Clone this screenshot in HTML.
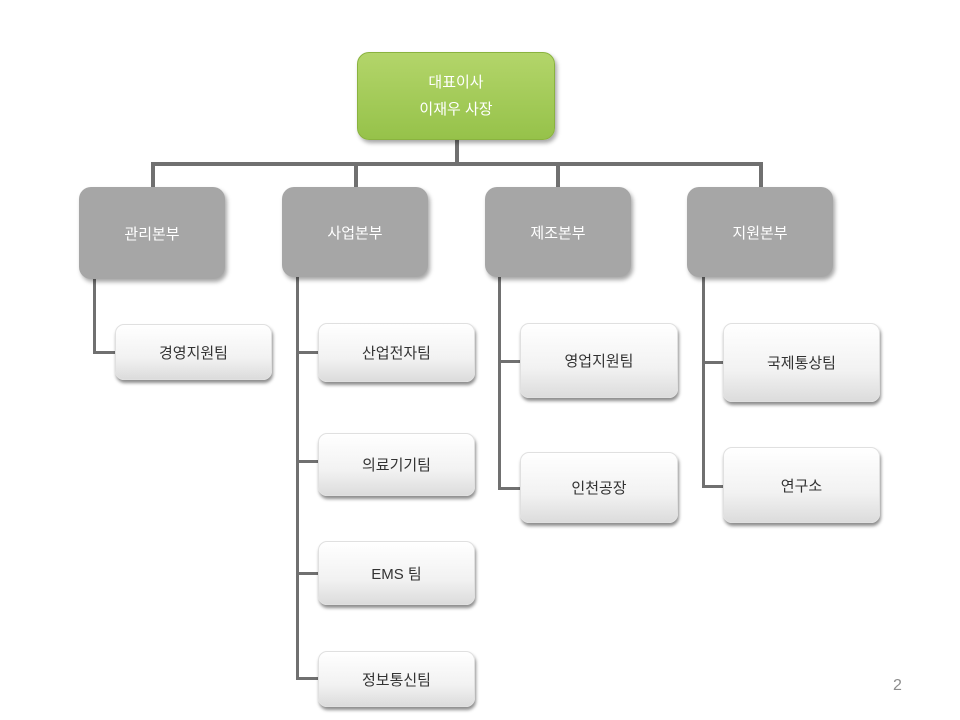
<!DOCTYPE html><html><head><meta charset="utf-8"><style>
body{margin:0;width:960px;height:720px;background:#fff;position:relative;overflow:hidden;font-family:"Liberation Sans","Noto Sans CJK KR",sans-serif}
.b{position:absolute;box-sizing:border-box;display:flex;align-items:center;justify-content:center;text-align:center;border-radius:12px}
.g{background:linear-gradient(#b3d56a,#96c24a);border:1px solid #8ab33f;color:#fff;font-size:15px;line-height:27px;box-shadow:2px 3px 4px rgba(0,0,0,.35)}
.m{background:#a6a6a6;color:#fff;font-size:15px;box-shadow:2px 3px 4px rgba(0,0,0,.35)}
.w{background:linear-gradient(#fff,#f2f2f2 60%,#dcdcdc);border:1px solid #e0e0e0;color:#333;font-size:15px;border-radius:9px;box-shadow:1px 3px 3px rgba(0,0,0,.45)}
.l{position:absolute;background:#707070}
</style></head><body>
<div class="l" style="left:455px;top:140px;width:4px;height:26px"></div>
<div class="l" style="left:152px;top:162px;width:610px;height:4px"></div>
<div class="l" style="left:151px;top:162px;width:4px;height:26px"></div>
<div class="l" style="left:354px;top:162px;width:4px;height:26px"></div>
<div class="l" style="left:556px;top:162px;width:4px;height:26px"></div>
<div class="l" style="left:759px;top:162px;width:4px;height:26px"></div>
<div class="l" style="left:93px;top:278px;width:3px;height:76px"></div>
<div class="l" style="left:93px;top:351px;width:24px;height:3px"></div>
<div class="l" style="left:296px;top:276px;width:3px;height:404px"></div>
<div class="l" style="left:296px;top:351px;width:24px;height:3px"></div>
<div class="l" style="left:296px;top:460px;width:24px;height:3px"></div>
<div class="l" style="left:296px;top:572px;width:24px;height:3px"></div>
<div class="l" style="left:296px;top:677px;width:24px;height:3px"></div>
<div class="l" style="left:498px;top:276px;width:3px;height:214px"></div>
<div class="l" style="left:498px;top:360px;width:24px;height:3px"></div>
<div class="l" style="left:498px;top:487px;width:24px;height:3px"></div>
<div class="l" style="left:702px;top:276px;width:3px;height:212px"></div>
<div class="l" style="left:702px;top:361px;width:24px;height:3px"></div>
<div class="l" style="left:702px;top:485px;width:24px;height:3px"></div>
<div class="b g" style="left:357px;top:52px;width:198px;height:88px">대표이사<br>이재우 사장</div>
<div class="b m" style="left:79px;top:187px;width:146px;height:92px">관리본부</div>
<div class="b m" style="left:282px;top:187px;width:146px;height:90px">사업본부</div>
<div class="b m" style="left:485px;top:187px;width:146px;height:90px">제조본부</div>
<div class="b m" style="left:687px;top:187px;width:146px;height:90px">지원본부</div>
<div class="b w" style="left:115px;top:324px;width:157px;height:56px">경영지원팀</div>
<div class="b w" style="left:318px;top:323px;width:157px;height:59px">산업전자팀</div>
<div class="b w" style="left:318px;top:433px;width:157px;height:63px">의료기기팀</div>
<div class="b w" style="left:318px;top:541px;width:157px;height:64px">EMS 팀</div>
<div class="b w" style="left:318px;top:651px;width:157px;height:56px">정보통신팀</div>
<div class="b w" style="left:520px;top:323px;width:158px;height:75px">영업지원팀</div>
<div class="b w" style="left:520px;top:452px;width:158px;height:71px">인천공장</div>
<div class="b w" style="left:723px;top:323px;width:157px;height:79px">국제통상팀</div>
<div class="b w" style="left:723px;top:447px;width:157px;height:76px">연구소</div>
<div style="position:absolute;left:893px;top:677px;color:#8c8c8c;font-size:16px">2</div>
</body></html>
